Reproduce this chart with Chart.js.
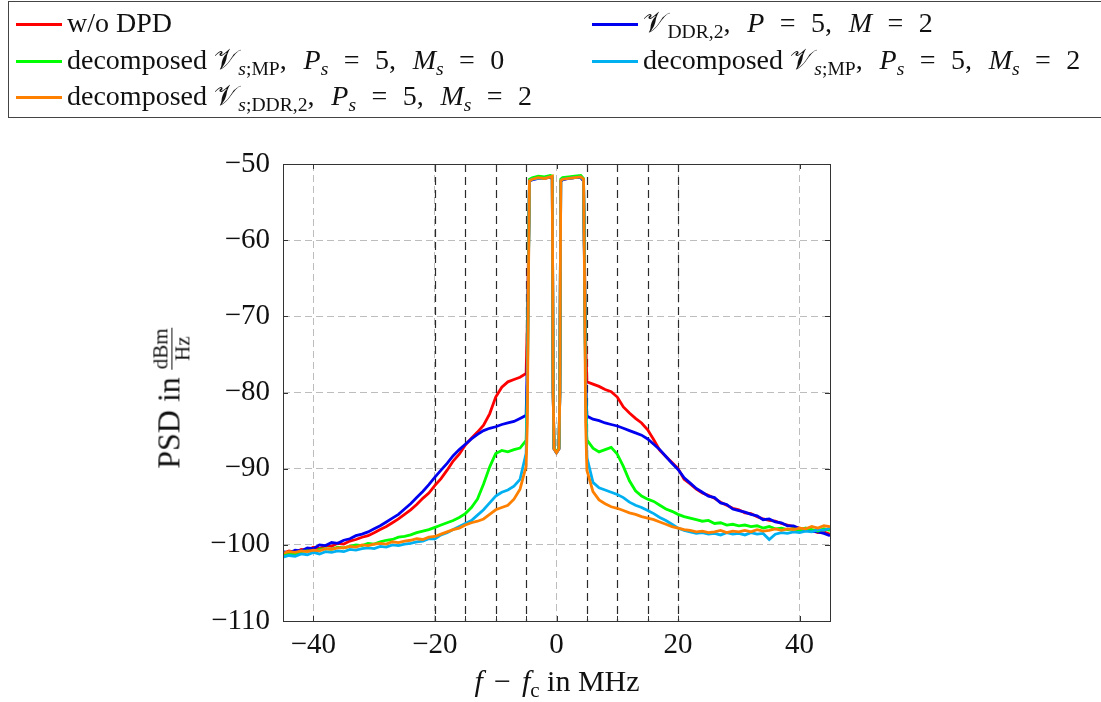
<!DOCTYPE html>
<html>
<head>
<meta charset="utf-8">
<script src="https://cdn.jsdelivr.net/npm/chart.js@4.4.1/dist/chart.umd.min.js"></script>
<style>
body { margin:0; background:#fff; font-family:"Liberation Serif", serif; color:#111; }
#wrap { position:relative; width:1101px; height:702px; overflow:hidden; }
#psd { position:absolute; left:0; top:0; }
.legendBox { position:absolute; left:8px; top:1px; width:1100px; height:117px; border:1px solid #444; box-sizing:border-box; }
.item { position:absolute; font-size:28px; line-height:30px; white-space:nowrap; }
.item .sw { display:inline-block; width:46px; height:2.5px; vertical-align:middle; margin-right:5px; position:relative; top:-1px; }
sub { font-size:70%; vertical-align:-0.3em; line-height:0; font-style:normal; }
i sub { font-style:italic; }
.eq { margin:0 0.3em; }
.cm { margin-right:0.35em; }
.V { margin-right:0.05em; }
.ytitle { position:absolute; left:172px; top:398px; transform:translate(-50%,-50%) rotate(-90deg); font-size:32px; white-space:nowrap; }
.frac { display:inline-block; vertical-align:middle; text-align:center; font-size:21px; line-height:21px; margin-left:7px; }
.frac span { display:block; padding:0 1px; }
.frac .num { border-bottom:1px solid #111; }
.xtitle { position:absolute; left:557px; top:666px; transform:translateX(-50%); font-size:30px; line-height:30px; white-space:nowrap; }
.op { margin:0 0.12em; }
</style>
</head>
<body>
<div id="wrap">
<canvas id="psd" width="1101" height="702"></canvas>
<div class="legendBox"></div>
<div class="item" style="left:16px;top:8px"><span class="sw" style="background:#ff0000"></span>w/o DPD</div>
<div class="item" style="left:592px;top:8px"><span class="sw" style="background:#0000f0"></span><span class="V">𝒱</span><sub>DDR,2</sub><span class="cm">,</span> <i>P</i> <span class="eq">=</span> 5<span class="cm">,</span> <i>M</i> <span class="eq">=</span> 2</div>
<div class="item" style="left:16px;top:45px"><span class="sw" style="background:#00ff00"></span>decomposed <span class="V">𝒱</span><sub><i>s</i>;MP</sub><span class="cm">,</span> <i>P<sub>s</sub></i> <span class="eq">=</span> 5<span class="cm">,</span> <i>M<sub>s</sub></i> <span class="eq">=</span> 0</div>
<div class="item" style="left:592px;top:45px"><span class="sw" style="background:#00b0f0"></span>decomposed <span class="V">𝒱</span><sub><i>s</i>;MP</sub><span class="cm">,</span> <i>P<sub>s</sub></i> <span class="eq">=</span> 5<span class="cm">,</span> <i>M<sub>s</sub></i> <span class="eq">=</span> 2</div>
<div class="item" style="left:16px;top:81px"><span class="sw" style="background:#ff8000"></span>decomposed <span class="V">𝒱</span><sub><i>s</i>;DDR,2</sub><span class="cm">,</span> <i>P<sub>s</sub></i> <span class="eq">=</span> 5<span class="cm">,</span> <i>M<sub>s</sub></i> <span class="eq">=</span> 2</div>
<div class="ytitle">PSD in<span class="frac"><span class="num">dBm</span><span>Hz</span></span></div>
<div class="xtitle"><i>f</i> <span class="op">−</span> <i>f</i><sub>c</sub> in MHz</div>
</div>
<script>
// frequency offset in MHz
const freqs = [-45,-44,-43,-42,-41,-40,-39,-38,-37,-36,-35,-34,-33,-32,-31,-30,-29,-28,-27,-26,-25,-24,-23,-22,-21,-20,-19,-18,-17,-16,-15,-14,-13,-12,-11,-10,-9,-8,-7,-6,-5,
  -4.8,-4.6,-4.45,-4,-3,-2,-1,-0.7,-0.55,-0.4,0,0.4,0.55,0.7,1,2,3,4,4.45,4.6,4.8,
  5,6,7,8,9,10,11,12,13,14,15,16,17,18,19,20,21,22,23,24,25,26,27,28,29,30,31,32,33,34,35,36,37,38,39,40,41,42,43,44,45];

const noDpd = [-101.1,-100.8,-101.0,-100.6,-100.7,-100.3,-100.5,-100.1,-100.2,-99.8,
  -99.9,-99.5,-99.3,-99.0,-98.8,-98.4,-98.0,-97.6,-97.1,-96.6,
  -96.0,-95.4,-94.7,-93.9,-93.2,-92.2,-91.3,-90.2,-89.0,-88.1,
  -86.9,-86.0,-85.2,-84.3,-82.8,-80.6,-79.3,-78.6,-78.3,-78.0,-77.5,
  -71,-61,-52.3,-52.0,-51.8,-51.9,-51.7,-51.8,-80,-87.4,-87.9,-87.4,-80,-52.2,-52.0,-51.9,-51.8,-51.7,-52.2,-62,-73,
  -78.6,-78.9,-79.2,-79.6,-79.9,-80.6,-81.9,-82.7,-83.4,-84.0,
  -84.9,-86.2,-87.6,-88.4,-89.2,-90.0,-91.4,-92.0,-92.7,-93.2,
  -93.5,-93.9,-94.4,-94.8,-95.2,-95.4,-95.8,-95.9,-96.3,-96.6,
  -96.8,-96.9,-97.2,-97.4,-97.6,-97.8,-98.0,-98.1,-98.4,-98.3,-98.6];

const ddr2 = [-100.9,-101.1,-100.7,-100.8,-100.4,-100.5,-100.0,-100.1,-99.7,-99.8,
  -99.4,-99.2,-98.8,-98.6,-98.3,-97.9,-97.5,-97.0,-96.5,-96.0,
  -95.3,-94.6,-93.8,-93.0,-92.1,-91.1,-90.2,-89.3,-88.3,-87.5,
  -86.8,-86.1,-85.5,-85.0,-84.7,-84.5,-84.2,-84.0,-83.8,-83.4,-83.0,
  -76,-62,-52.2,-52.1,-51.9,-51.8,-51.8,-51.9,-80,-87.4,-87.9,-87.4,-80,-52.3,-52.1,-51.9,-51.8,-51.8,-52.2,-63,-78,
  -83.1,-83.5,-83.7,-84.0,-84.2,-84.4,-84.7,-85.0,-85.3,-85.6,
  -86.1,-86.8,-87.5,-88.4,-89.3,-90.1,-91.2,-91.9,-92.6,-93.1,
  -93.6,-93.8,-94.5,-94.7,-95.3,-95.5,-95.7,-96.0,-96.2,-96.7,
  -96.6,-97.0,-97.1,-97.5,-97.5,-97.9,-98.0,-98.2,-98.3,-98.5,-98.8];

const decMpM0 = [-101.3,-101.1,-101.2,-100.9,-100.8,-100.9,-100.6,-100.5,-100.6,-100.3,
  -100.4,-100.2,-100.0,-100.1,-99.8,-99.9,-99.6,-99.4,-99.3,-99.0,
  -98.9,-98.7,-98.4,-98.2,-98.0,-97.7,-97.4,-97.1,-96.8,-96.4,
  -95.9,-95.1,-94.0,-92.0,-89.8,-88.0,-87.6,-87.8,-87.5,-87.3,-86.3,
  -80,-62,-52.0,-51.8,-51.6,-51.7,-51.5,-51.6,-80,-87.3,-87.8,-87.3,-80,-52.0,-51.8,-51.7,-51.6,-51.5,-51.9,-62,-80,
  -86.2,-87.3,-87.8,-87.5,-87.2,-88.1,-89.7,-91.6,-92.9,-93.6,
  -94.0,-94.3,-94.8,-95.3,-95.6,-96.0,-96.3,-96.5,-96.7,-96.9,
  -96.8,-97.2,-97.1,-97.4,-97.3,-97.5,-97.4,-97.6,-97.5,-97.8,
  -97.6,-97.9,-97.8,-98.0,-97.9,-98.1,-97.8,-98.0,-98.2,-97.9,-98.1];

const decMpM2 = [-101.6,-101.4,-101.5,-101.2,-101.3,-101.0,-101.2,-100.9,-101.0,-100.8,
  -100.9,-100.6,-100.7,-100.5,-100.4,-100.5,-100.2,-100.3,-100.0,-100.1,
  -99.9,-99.8,-99.6,-99.5,-99.2,-99.2,-98.7,-98.4,-98.0,-97.6,
  -97.2,-96.8,-96.1,-95.4,-94.5,-93.6,-93.1,-92.8,-92.3,-91.4,-88.0,
  -80,-63,-52.2,-52.0,-51.9,-51.9,-51.7,-51.8,-80,-87.4,-87.9,-87.4,-80,-52.2,-52.0,-51.9,-51.8,-51.7,-52.1,-63,-80,
  -88.5,-91.8,-92.5,-92.8,-93.1,-93.4,-93.8,-94.4,-94.8,-95.1,
  -95.5,-95.9,-96.4,-96.8,-97.3,-97.8,-98.1,-98.3,-98.5,-98.4,
  -98.6,-98.5,-98.7,-98.4,-98.6,-98.5,-98.7,-98.4,-98.6,-98.5,
  -99.3,-98.6,-98.4,-98.5,-98.3,-98.4,-98.2,-98.3,-98.0,-98.1,-97.8];

const decDdr2 = [-101.1,-100.9,-101.0,-100.8,-100.9,-100.7,-100.8,-100.5,-100.6,-100.4,
  -100.4,-100.2,-100.3,-100.0,-100.1,-99.9,-99.8,-99.9,-99.6,-99.7,
  -99.5,-99.4,-99.2,-99.3,-99.0,-98.9,-98.6,-98.3,-98.0,-97.8,
  -97.4,-97.1,-96.9,-96.6,-96.0,-95.4,-95.1,-94.8,-94.0,-92.7,-89.7,
  -84,-64,-52.2,-52.0,-51.8,-51.9,-51.7,-51.6,-80,-87.4,-87.9,-87.4,-80,-52.2,-52.0,-51.9,-51.8,-51.7,-52.0,-64,-84,
  -90.2,-93.0,-94.1,-94.6,-95.0,-95.2,-95.5,-95.8,-96.0,-96.3,
  -96.5,-96.7,-97.0,-97.3,-97.6,-97.8,-98.0,-98.1,-98.3,-98.2,
  -98.4,-98.3,-98.1,-98.4,-98.2,-98.3,-98.1,-98.3,-98.0,-98.2,
  -98.1,-97.9,-98.1,-97.9,-98.0,-97.8,-97.9,-97.6,-97.8,-97.5,-97.6];

const xTicks = [-40,-20,0,20,40];
const yTicks = [-110,-100,-90,-80,-70,-60,-50];
const markerFreqs = [-20,-15,-10,-5,5,10,15,20];

const series = [
  {label:'w/o DPD', values:noDpd, color:'#ff0000'},
  {label:'VDDR,2, P = 5, M = 2', values:ddr2, color:'#0000f0'},
  {label:'decomposed Vs;MP, Ps = 5, Ms = 0', values:decMpM0, color:'#00ff00'},
  {label:'decomposed Vs;MP, Ps = 5, Ms = 2', values:decMpM2, color:'#00b0f0'},
  {label:'decomposed Vs;DDR,2, Ps = 5, Ms = 2', values:decDdr2, color:'#ff8000'}
];

function minus(v){
  return v < 0 ? '\u2212' + Math.abs(v) : String(v);
}

const frameAndMarkers = {
  id:'frameAndMarkers',
  beforeDatasetsDraw(chart){
    const {ctx, chartArea, scales} = chart;
    ctx.save();
    ctx.strokeStyle = '#2a2a2a';
    ctx.lineWidth = 1.2;
    ctx.setLineDash([8,5]);
    markerFreqs.forEach(f => {
      const px = Math.round(scales.x.getPixelForValue(f)) + 0.5;
      ctx.beginPath();
      ctx.moveTo(px, chartArea.top);
      ctx.lineTo(px, chartArea.bottom);
      ctx.stroke();
    });
    ctx.restore();
  },
  afterDatasetsDraw(chart){
    const {ctx, chartArea, scales} = chart;
    const {left, right, top, bottom} = chartArea;
    ctx.save();
    ctx.strokeStyle = '#333';
    ctx.lineWidth = 1;
    ctx.strokeRect(Math.round(left)+0.5, Math.round(top)+0.5, Math.round(right-left), Math.round(bottom-top));
    ctx.beginPath();
    xTicks.concat(markerFreqs).forEach(f => {
      const px = Math.round(scales.x.getPixelForValue(f)) + 0.5;
      ctx.moveTo(px, bottom); ctx.lineTo(px, bottom-5);
      ctx.moveTo(px, top); ctx.lineTo(px, top+5);
    });
    yTicks.forEach(v => {
      const py = Math.round(scales.y.getPixelForValue(v)) + 0.5;
      ctx.moveTo(left, py); ctx.lineTo(left+5, py);
      ctx.moveTo(right, py); ctx.lineTo(right-5, py);
    });
    ctx.stroke();
    ctx.restore();
  }
};

const tickFont = {family:'Liberation Serif', size:29};

new Chart(document.getElementById('psd'), {
  type:'line',
  data:{
    // first series at the bottom, orange on top like the original
    datasets: series.map((s, i) => ({
      label:s.label,
      data: freqs.map((f,j) => ({x:f, y:s.values[j]})),
      borderColor:s.color,
      borderWidth:2.8,
      pointRadius:0,
      tension:0,
      fill:false,
      order: series.length - i
    }))
  },
  options:{
    responsive:false,
    animation:false,
    layout:{padding:{left:0, top:164, right:271, bottom:0}},
    plugins:{legend:{display:false}, tooltip:{enabled:false}},
    scales:{
      x:{
        type:'linear', min:-45, max:45,
        afterBuildTicks: s => { s.ticks = xTicks.map(v => ({value:v})); },
        afterFit: s => { s.height = 81; },
        grid:{color:'#bdbdbd', lineWidth:1, drawTicks:false},
        border:{display:false, dash:[7,4]},
        ticks:{padding:7, color:'#111', font:tickFont, maxRotation:0, callback: v => minus(v)}
      },
      y:{
        min:-110, max:-50,
        afterBuildTicks: s => { s.ticks = yTicks.map(v => ({value:v})); },
        afterFit: s => { s.width = 283; },
        grid:{color:'#bdbdbd', lineWidth:1, drawTicks:false},
        border:{display:false, dash:[7,4]},
        ticks:{padding:13, color:'#111', font:tickFont, callback: v => minus(v)}
      }
    }
  },
  plugins:[frameAndMarkers]
});
</script>
</body>
</html>
